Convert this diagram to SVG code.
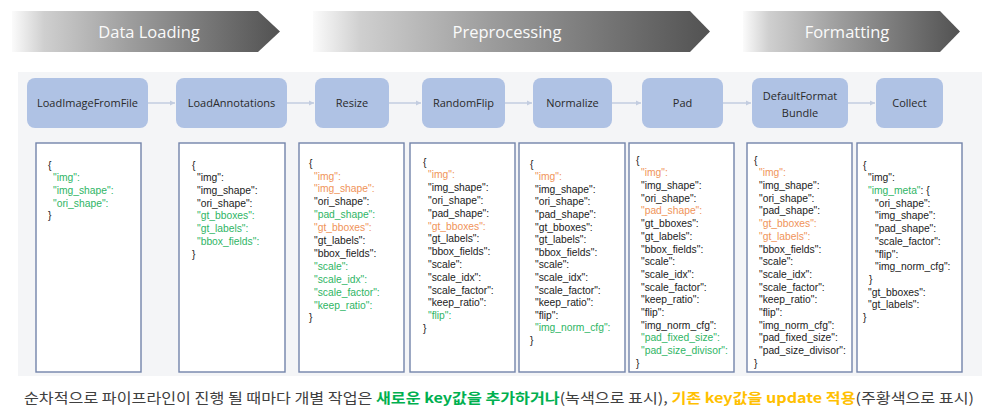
<svg xmlns="http://www.w3.org/2000/svg" width="982" height="416" viewBox="0 0 982 416">
<defs>
<linearGradient id="bannerGrad" x1="0" y1="0" x2="1" y2="0">
<stop offset="0" stop-color="#fbfbfb"/>
<stop offset="0.12" stop-color="#cfcfcf"/>
<stop offset="0.45" stop-color="#9c9c9c"/>
<stop offset="1" stop-color="#525252"/>
</linearGradient>
<marker id="arr" viewBox="0 0 6 6" refX="5" refY="3" markerWidth="6" markerHeight="6" orient="auto" markerUnits="userSpaceOnUse">
<path d="M0,0.5 L5,3 L0,5.5 Z" fill="#c3cde0"/>
</marker>
<style>
.banner{fill:url(#bannerGrad)}
.btxt{font-family:"Open Sans","Liberation Sans",sans-serif;font-size:16.5px;fill:#fafafa;text-anchor:middle}
.node{fill:#afc2e4}
.ntxt{font-family:"Open Sans","Liberation Sans",sans-serif;font-size:11px;fill:#2a2a2a;text-anchor:middle}
.panel{fill:#ffffff;stroke:#7384aa;stroke-width:1.4}
.ptxt{font-family:"Liberation Sans",Arial,sans-serif;font-size:10.3px;fill:#222}
.g{fill:#2fb565}
.o{fill:#f0945a}
.conn{stroke:#c3cde0;stroke-width:1.5;fill:none}
.cap{font-family:"Noto Sans CJK KR",sans-serif;font-size:14px;fill:#404040}
.cg{fill:#00b050;font-weight:bold}
.co{fill:#ffc000;font-weight:bold}
</style>
</defs>
<rect x="0" y="0" width="982" height="416" fill="#ffffff"/>
<g id="banners">
<g id="banner-data-loading">
<polygon class="banner" points="12,11 258,11 280,31.5 258,52 12,52"/>
<text class="btxt" x="149" y="37.5">Data Loading</text>
</g>
<g id="banner-preprocessing">
<polygon class="banner" points="313,11 690,11 710,31.5 690,52 313,52"/>
<text class="btxt" x="507" y="37.5">Preprocessing</text>
</g>
<g id="banner-formatting">
<polygon class="banner" points="743,11 940,11 960,31.5 940,52 743,52"/>
<text class="btxt" x="847" y="37.5">Formatting</text>
</g>
</g>
<rect x="18" y="72" width="964" height="304" fill="#f4f5f7"/>
<g id="connectors">
<line class="conn" x1="148" y1="103" x2="175" y2="103" marker-end="url(#arr)"/>
<line class="conn" x1="287" y1="103" x2="314" y2="103" marker-end="url(#arr)"/>
<line class="conn" x1="389" y1="103" x2="421" y2="103" marker-end="url(#arr)"/>
<line class="conn" x1="505" y1="103" x2="532" y2="103" marker-end="url(#arr)"/>
<line class="conn" x1="612" y1="103" x2="641" y2="103" marker-end="url(#arr)"/>
<line class="conn" x1="723" y1="103" x2="751" y2="103" marker-end="url(#arr)"/>
<line class="conn" x1="848" y1="103" x2="875" y2="103" marker-end="url(#arr)"/>
</g>
<g id="node-LoadImageFromFile">
<rect class="node" x="27" y="78" width="121" height="50" rx="8"/>
<text class="ntxt" x="87.5" y="107">LoadImageFromFile</text>
</g>
<g id="node-LoadAnnotations">
<rect class="node" x="176" y="78" width="111" height="50" rx="8"/>
<text class="ntxt" x="231.5" y="107">LoadAnnotations</text>
</g>
<g id="node-Resize">
<rect class="node" x="315" y="78" width="74" height="50" rx="8"/>
<text class="ntxt" x="352" y="107">Resize</text>
</g>
<g id="node-RandomFlip">
<rect class="node" x="422" y="78" width="83" height="50" rx="8"/>
<text class="ntxt" x="463.5" y="107">RandomFlip</text>
</g>
<g id="node-Normalize">
<rect class="node" x="533" y="78" width="79" height="50" rx="8"/>
<text class="ntxt" x="572.5" y="107">Normalize</text>
</g>
<g id="node-Pad">
<rect class="node" x="642" y="78" width="81" height="50" rx="8"/>
<text class="ntxt" x="682.5" y="107">Pad</text>
</g>
<g id="node-DefaultFormatBundle">
<rect class="node" x="752" y="78" width="96" height="50" rx="8"/>
<text class="ntxt" x="800" y="99.5">DefaultFormat</text>
<text class="ntxt" x="800" y="116.5">Bundle</text>
</g>
<g id="node-Collect">
<rect class="node" x="876" y="78" width="67" height="50" rx="8"/>
<text class="ntxt" x="909.5" y="107">Collect</text>
</g>
<g id="panel-LoadImageFromFile">
<rect class="panel" x="36" y="143" width="105" height="229"/>
<text class="ptxt" y="168.6"><tspan x="48">{</tspan><tspan x="53" dy="12.7" class="g">"img":</tspan><tspan x="53" dy="12.7" class="g">"img_shape":</tspan><tspan x="53" dy="12.7" class="g">"ori_shape":</tspan><tspan x="48" dy="12.7">}</tspan></text>
</g>
<g id="panel-LoadAnnotations">
<rect class="panel" x="179" y="143" width="106" height="229"/>
<text class="ptxt" y="168.6"><tspan x="192">{</tspan><tspan x="197" dy="12.7">"img":</tspan><tspan x="197" dy="12.7">"img_shape":</tspan><tspan x="197" dy="12.7">"ori_shape":</tspan><tspan x="197" dy="12.7" class="g">"gt_bboxes":</tspan><tspan x="197" dy="12.7" class="g">"gt_labels":</tspan><tspan x="197" dy="12.7" class="g">"bbox_fields":</tspan><tspan x="192" dy="12.7">}</tspan></text>
</g>
<g id="panel-Resize">
<rect class="panel" x="299" y="143" width="105" height="229"/>
<text class="ptxt" y="166.6"><tspan x="309">{</tspan><tspan x="314" dy="12.9" class="o">"img":</tspan><tspan x="314" dy="12.9" class="o">"img_shape":</tspan><tspan x="314" dy="12.9">"ori_shape":</tspan><tspan x="314" dy="12.9" class="g">"pad_shape":</tspan><tspan x="314" dy="12.9" class="o">"gt_bboxes":</tspan><tspan x="314" dy="12.9">"gt_labels":</tspan><tspan x="314" dy="12.9">"bbox_fields":</tspan><tspan x="314" dy="12.9" class="g">"scale":</tspan><tspan x="314" dy="12.9" class="g">"scale_idx":</tspan><tspan x="314" dy="12.9" class="g">"scale_factor":</tspan><tspan x="314" dy="12.9" class="g">"keep_ratio":</tspan><tspan x="309" dy="12.9">}</tspan></text>
</g>
<g id="panel-RandomFlip">
<rect class="panel" x="410" y="143" width="105" height="229"/>
<text class="ptxt" y="165.6"><tspan x="423">{</tspan><tspan x="428" dy="12.8" class="o">"img":</tspan><tspan x="428" dy="12.8">"img_shape":</tspan><tspan x="428" dy="12.8">"ori_shape":</tspan><tspan x="428" dy="12.8">"pad_shape":</tspan><tspan x="428" dy="12.8" class="o">"gt_bboxes":</tspan><tspan x="428" dy="12.8">"gt_labels":</tspan><tspan x="428" dy="12.8">"bbox_fields":</tspan><tspan x="428" dy="12.8">"scale":</tspan><tspan x="428" dy="12.8">"scale_idx":</tspan><tspan x="428" dy="12.8">"scale_factor":</tspan><tspan x="428" dy="12.8">"keep_ratio":</tspan><tspan x="428" dy="12.8" class="g">"flip":</tspan><tspan x="423" dy="12.8">}</tspan></text>
</g>
<g id="panel-Normalize">
<rect class="panel" x="519" y="143" width="106" height="229"/>
<text class="ptxt" y="167.6"><tspan x="530">{</tspan><tspan x="535" dy="12.6" class="o">"img":</tspan><tspan x="535" dy="12.6">"img_shape":</tspan><tspan x="535" dy="12.6">"ori_shape":</tspan><tspan x="535" dy="12.6">"pad_shape":</tspan><tspan x="535" dy="12.6">"gt_bboxes":</tspan><tspan x="535" dy="12.6">"gt_labels":</tspan><tspan x="535" dy="12.6">"bbox_fields":</tspan><tspan x="535" dy="12.6">"scale":</tspan><tspan x="535" dy="12.6">"scale_idx":</tspan><tspan x="535" dy="12.6">"scale_factor":</tspan><tspan x="535" dy="12.6">"keep_ratio":</tspan><tspan x="535" dy="12.6">"flip":</tspan><tspan x="535" dy="12.6" class="g">"img_norm_cfg":</tspan><tspan x="530" dy="12.6">}</tspan></text>
</g>
<g id="panel-Pad">
<rect class="panel" x="629" y="143" width="105" height="229"/>
<text class="ptxt" y="163.6"><tspan x="636">{</tspan><tspan x="641" dy="12.7" class="o">"img":</tspan><tspan x="641" dy="12.7">"img_shape":</tspan><tspan x="641" dy="12.7">"ori_shape":</tspan><tspan x="641" dy="12.7" class="o">"pad_shape":</tspan><tspan x="641" dy="12.7">"gt_bboxes":</tspan><tspan x="641" dy="12.7">"gt_labels":</tspan><tspan x="641" dy="12.7">"bbox_fields":</tspan><tspan x="641" dy="12.7">"scale":</tspan><tspan x="641" dy="12.7">"scale_idx":</tspan><tspan x="641" dy="12.7">"scale_factor":</tspan><tspan x="641" dy="12.7">"keep_ratio":</tspan><tspan x="641" dy="12.7">"flip":</tspan><tspan x="641" dy="12.7">"img_norm_cfg":</tspan><tspan x="641" dy="12.7" class="g">"pad_fixed_size":</tspan><tspan x="641" dy="12.7" class="g">"pad_size_divisor":</tspan><tspan x="636" dy="12.7">}</tspan></text>
</g>
<g id="panel-DefaultFormatBundle">
<rect class="panel" x="747" y="143" width="105" height="229"/>
<text class="ptxt" y="163.6"><tspan x="754">{</tspan><tspan x="759" dy="12.7" class="o">"img":</tspan><tspan x="759" dy="12.7">"img_shape":</tspan><tspan x="759" dy="12.7">"ori_shape":</tspan><tspan x="759" dy="12.7">"pad_shape":</tspan><tspan x="759" dy="12.7" class="o">"gt_bboxes":</tspan><tspan x="759" dy="12.7" class="o">"gt_labels":</tspan><tspan x="759" dy="12.7">"bbox_fields":</tspan><tspan x="759" dy="12.7">"scale":</tspan><tspan x="759" dy="12.7">"scale_idx":</tspan><tspan x="759" dy="12.7">"scale_factor":</tspan><tspan x="759" dy="12.7">"keep_ratio":</tspan><tspan x="759" dy="12.7">"flip":</tspan><tspan x="759" dy="12.7">"img_norm_cfg":</tspan><tspan x="759" dy="12.7">"pad_fixed_size":</tspan><tspan x="759" dy="12.7">"pad_size_divisor":</tspan><tspan x="754" dy="12.7">}</tspan></text>
</g>
<g id="panel-Collect">
<rect class="panel" x="857" y="143" width="105" height="229"/>
<text class="ptxt" y="168.6"><tspan x="863">{</tspan><tspan x="868" dy="12.7">"img":</tspan><tspan x="868" dy="12.7"><tspan class="g">"img_meta"</tspan>: {</tspan><tspan x="875" dy="12.7">"ori_shape":</tspan><tspan x="875" dy="12.7">"img_shape":</tspan><tspan x="875" dy="12.7">"pad_shape":</tspan><tspan x="875" dy="12.7">"scale_factor":</tspan><tspan x="875" dy="12.7">"flip":</tspan><tspan x="875" dy="12.7">"img_norm_cfg":</tspan><tspan x="869" dy="12.7">}</tspan><tspan x="868" dy="12.7">"gt_bboxes":</tspan><tspan x="868" dy="12.7">"gt_labels":</tspan><tspan x="863" dy="12.7">}</tspan></text>
</g>
<g id="caption">
<text class="cap" x="24" y="403" textLength="950" lengthAdjust="spacingAndGlyphs">순차적으로 파이프라인이 진행 될 때마다 개별 작업은 <tspan class="cg">새로운 key값을 추가하거나</tspan>(녹색으로 표시), <tspan class="co">기존 key값을 update 적용</tspan>(주황색으로 표시)</text>
</g>
</svg>
